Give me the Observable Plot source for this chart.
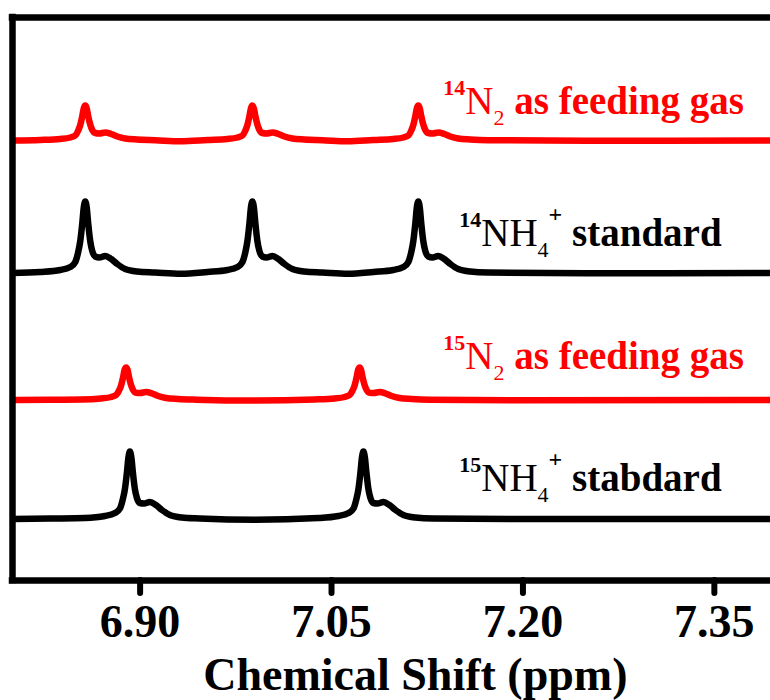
<!DOCTYPE html>
<html>
<head>
<meta charset="utf-8">
<script src="https://cdn.jsdelivr.net/npm/d3@7"></script>
<script src="https://cdn.jsdelivr.net/npm/@observablehq/plot@0.6"></script>
<style>
  html, body { margin: 0; padding: 0; background: #fff; overflow: hidden; }
  #chart svg { display: block; }
</style>
</head>
<body>
<div id="chart"></div>
<script>
// ---- Data ----
const xDomain = [6.80, 7.394];          // ppm
const yDomain = [0, 56.3];              // stacked intensity (a.u.)
const xTicks = [6.90, 7.05, 7.20, 7.35];
const axisTitle = "Chemical Shift (ppm)";

// trace order: 14N2 feed, 14NH4+ std, 15N2 feed, 15NH4+ std
const traceOffsets = [44.0, 30.75, 18.05, 6.15];

// [ppm, intensity above baseline]
const red14N = [
  [6.800, 0.00], [6.8218, 0.05], [6.8374, 0.15], [6.8453, 0.30], [6.8492, 0.50], [6.8515, 1.00], [6.8531, 1.55], [6.8547, 2.45], [6.8558, 3.20], [6.8570, 3.50], [6.8582, 3.20], [6.8593, 2.45], [6.8609, 1.60], [6.8625, 1.05], [6.8648, 0.75], [6.8680, 0.70], [6.8727, 0.80], [6.8774, 0.65], [6.8821, 0.40], [6.8883, 0.20], [6.8977, 0.10], [6.9118, 0.03],
  [6.932, -0.08],
  [6.9528, 0.05], [6.9684, 0.15], [6.9763, 0.30], [6.9802, 0.50], [6.9825, 1.00], [6.9841, 1.55], [6.9857, 2.45], [6.9868, 3.20], [6.9880, 3.50], [6.9892, 3.20], [6.9903, 2.45], [6.9919, 1.60], [6.9935, 1.05], [6.9958, 0.75], [6.9990, 0.70], [7.0037, 0.80], [7.0084, 0.65], [7.0131, 0.40], [7.0193, 0.20], [7.0287, 0.10], [7.0428, 0.03],
  [7.063, -0.08],
  [7.0828, 0.05], [7.0984, 0.15], [7.1063, 0.30], [7.1102, 0.50], [7.1125, 1.00], [7.1141, 1.55], [7.1157, 2.45], [7.1168, 3.20], [7.1180, 3.50], [7.1192, 3.20], [7.1203, 2.45], [7.1219, 1.60], [7.1235, 1.05], [7.1258, 0.75], [7.1290, 0.70], [7.1337, 0.80], [7.1384, 0.65], [7.1431, 0.40], [7.1493, 0.20], [7.1587, 0.10], [7.1728, 0.03],
  [7.250, -0.03], [7.394, 0.00]
];

const black14N = [
  [6.800, 0.00], [6.8218, 0.10], [6.8374, 0.30], [6.8453, 0.60], [6.8492, 1.10], [6.8515, 2.10], [6.8531, 3.20], [6.8547, 5.00], [6.8558, 6.50], [6.8570, 7.15], [6.8582, 6.50], [6.8593, 5.00], [6.8609, 3.20], [6.8625, 2.20], [6.8648, 1.65], [6.8680, 1.55], [6.8727, 1.70], [6.8774, 1.40], [6.8821, 0.90], [6.8883, 0.40], [6.8977, 0.15], [6.9118, 0.05],
  [6.932, -0.08],
  [6.9528, 0.10], [6.9684, 0.30], [6.9763, 0.60], [6.9802, 1.10], [6.9825, 2.10], [6.9841, 3.20], [6.9857, 5.00], [6.9868, 6.50], [6.9880, 7.15], [6.9892, 6.50], [6.9903, 5.00], [6.9919, 3.20], [6.9935, 2.20], [6.9958, 1.65], [6.9990, 1.55], [7.0037, 1.70], [7.0084, 1.40], [7.0131, 0.90], [7.0193, 0.40], [7.0287, 0.15], [7.0428, 0.05],
  [7.063, -0.08],
  [7.0828, 0.10], [7.0984, 0.30], [7.1063, 0.60], [7.1102, 1.10], [7.1125, 2.10], [7.1141, 3.20], [7.1157, 5.00], [7.1168, 6.50], [7.1180, 7.15], [7.1192, 6.50], [7.1203, 5.00], [7.1219, 3.20], [7.1235, 2.20], [7.1258, 1.65], [7.1290, 1.55], [7.1337, 1.70], [7.1384, 1.40], [7.1431, 0.90], [7.1493, 0.40], [7.1587, 0.15], [7.1728, 0.05],
  [7.250, -0.03], [7.394, 0.00]
];

const red15N = [
  [6.800, 0.00], [6.830, 0.03], [6.8538, 0.05], [6.8694, 0.15], [6.8773, 0.30], [6.8812, 0.50], [6.8835, 0.95], [6.8851, 1.45], [6.8867, 2.30], [6.8878, 3.00], [6.8890, 3.25], [6.8902, 3.00], [6.8913, 2.30], [6.8929, 1.50], [6.8945, 1.00], [6.8968, 0.72], [6.9000, 0.70], [6.9047, 0.80], [6.9094, 0.65], [6.9141, 0.40], [6.9203, 0.20], [6.9297, 0.10], [6.9438, 0.03],
  [6.990, -0.06],
  [7.0368, 0.05], [7.0524, 0.15], [7.0603, 0.30], [7.0642, 0.50], [7.0665, 0.95], [7.0681, 1.45], [7.0697, 2.30], [7.0708, 3.00], [7.0720, 3.25], [7.0732, 3.00], [7.0743, 2.30], [7.0759, 1.50], [7.0775, 1.00], [7.0798, 0.72], [7.0830, 0.70], [7.0877, 0.80], [7.0924, 0.65], [7.0971, 0.40], [7.1033, 0.20], [7.1127, 0.10], [7.1268, 0.03],
  [7.200, -0.03], [7.394, 0.00]
];

const black15N = [
  [6.800, 0.00], [6.830, 0.05], [6.8568, 0.10], [6.8724, 0.30], [6.8803, 0.60], [6.8842, 1.05], [6.8865, 2.00], [6.8881, 3.00], [6.8897, 4.70], [6.8908, 6.10], [6.8920, 6.75], [6.8932, 6.10], [6.8943, 4.70], [6.8959, 3.00], [6.8975, 2.10], [6.8998, 1.60], [6.9030, 1.55], [6.9077, 1.70], [6.9124, 1.40], [6.9171, 0.90], [6.9233, 0.40], [6.9327, 0.15], [6.9468, 0.05],
  [6.990, -0.08],
  [7.0398, 0.10], [7.0554, 0.30], [7.0633, 0.60], [7.0672, 1.05], [7.0695, 2.00], [7.0711, 3.00], [7.0727, 4.70], [7.0738, 6.10], [7.0750, 6.75], [7.0762, 6.10], [7.0773, 4.70], [7.0789, 3.00], [7.0805, 2.10], [7.0828, 1.60], [7.0860, 1.55], [7.0907, 1.70], [7.0954, 1.40], [7.1001, 0.90], [7.1063, 0.40], [7.1157, 0.15], [7.1298, 0.05],
  [7.200, 0.00], [7.394, 0.00]
];

const labelTexts = ["14N2 as feeding gas", "14NH4+ standard", "15N2 as feeding gas", "15NH4+ stabdard"];
const labelX = [7.1376, 7.1501, 7.1376, 7.1501];
const labelY = [46.7, 33.5, 21.2, 9.0];

// ---- Build ----
const traces = [red14N, black14N, red15N, black15N];
const traceColors = ["#ff0000", "#000000", "#ff0000", "#000000"];
const serif = "'Liberation Serif', 'Times New Roman', Times, serif";

const lineMarks = traces.map((pts, i) =>
  Plot.line(pts.map(([x, v]) => ({x, y: v + traceOffsets[i]})), {
    x: "x", y: "y", stroke: traceColors[i], strokeWidth: 6.5,
    curve: "monotone-x", strokeLinejoin: "round", strokeLinecap: "butt"
  })
);

const labels = labelTexts.map((t, i) => ({text: t, x: labelX[i], y: labelY[i], color: traceColors[i]}));

const plot = Plot.plot({
  width: 770,
  height: 700,
  marginTop: 17,
  marginBottom: 120,
  marginLeft: 12,
  marginRight: 0,
  style: {fontFamily: serif, background: "#fff"},
  x: {domain: xDomain},
  y: {domain: yDomain, axis: null},
  marks: [
    ...lineMarks,
    Plot.ruleY([yDomain[0], yDomain[1]], {stroke: "#000", strokeWidth: 6.5, strokeLinecap: "square"}),
    Plot.ruleX([xDomain[0]], {stroke: "#000", strokeWidth: 6.5, strokeLinecap: "square"}),
    Plot.axisX(xTicks, {
      tickSize: 13, tickPadding: 11, strokeWidth: 6, strokeLinecap: "round",
      tickFormat: d => d.toFixed(2), fontSize: 46, fontWeight: "bold", fontFamily: serif, label: null
    }),
    Plot.text([axisTitle], {
      x: () => 7.1157, frameAnchor: "bottom", dy: 109, lineAnchor: "bottom",
      fontSize: 46, fontWeight: "bold", fontFamily: serif, fill: "#000"
    }),
    Plot.text(labels, {
      x: "x", y: "y", text: "text", fill: d => d.color, textAnchor: "start", lineAnchor: "bottom",
      fontSize: 39, fontWeight: "bold", fontFamily: serif
    })
  ]
});

// Rich text (superscript / subscript) for the trace labels
const NS = "http://www.w3.org/2000/svg";
plot.querySelectorAll("text").forEach(t => {
  const s = t.textContent;
  if (!labelTexts.includes(s)) return;
  const m = s.match(/^(\d+)([A-Z][A-Za-z]*)(\d)(\+?)(.*)$/);
  if (!m) return;
  t.textContent = "";
  t.style.whiteSpace = "pre";
  const add = (txt, attrs) => {
    const ts = document.createElementNS(NS, "tspan");
    ts.textContent = txt;
    for (const k in attrs) ts.setAttribute(k, attrs[k]);
    t.appendChild(ts);
  };
  add(m[1], {"font-size": 22, dy: -19, "font-weight": "bold"});
  add(m[2], {"font-size": 39, dy: 19, "font-weight": "normal"});
  add(m[3], {"font-size": 22, dy: 11, "font-weight": "normal"});
  if (m[4]) {
    add(m[4], {"font-size": 24, dy: -35, "font-weight": "bold"});
    add(m[5], {"font-size": 39, dy: 24, "font-weight": "bold"});
  } else {
    add(m[5], {"font-size": 39, dy: -11, "font-weight": "bold"});
  }
});

document.getElementById("chart").appendChild(plot);
</script>
</body>
</html>
